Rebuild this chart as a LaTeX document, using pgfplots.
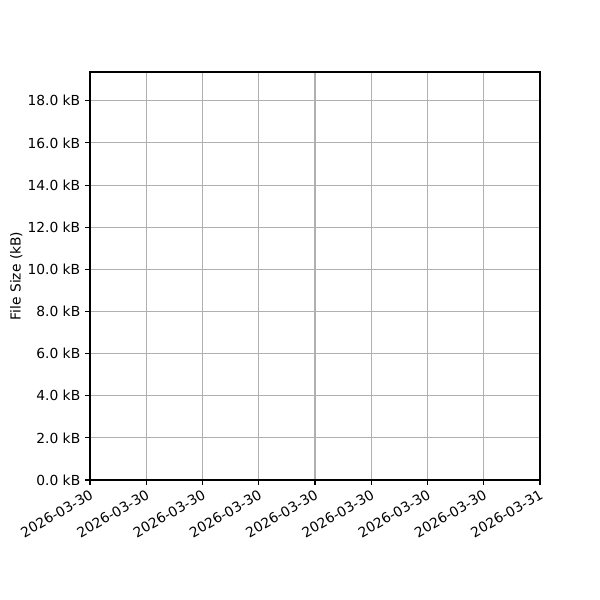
\documentclass[border=0pt]{standalone}
\usepackage{pgfplots}
\pgfplotsset{compat=1.18}
\usepackage{fontspec}
\setmainfont{DejaVu Sans}
\begin{document}
\fontsize{10}{12}\selectfont
\begin{tikzpicture}
\path[use as bounding box] (-65.04pt,-86.72pt) rectangle (368.58pt,346.90pt);
\begin{axis}[
  at={(0,0)}, anchor=south west,
  scale only axis,
  width=325.2pt, height=294.9pt,
  xmin=0, xmax=8, ymin=0, ymax=19.37,
  xtick={0,1,2,3,4,5,6,7,8},
  xticklabels={2026-03-30,2026-03-30,2026-03-30,2026-03-30,2026-03-30,2026-03-30,2026-03-30,2026-03-30,2026-03-31},
  ytick={0,2,4,6,8,10,12,14,16,18},
  yticklabel={\pgfmathprintnumber[fixed,fixed zerofill,precision=1]{\tick}~kB},
  /pgf/number format/assume math mode=true,
  xtick pos=bottom, ytick pos=left,
  tick align=outside,
  major tick length=3.5pt,
  every tick/.style={black, line width=0.8pt},
  axis line style={line width=0.8pt},
  grid=major,
  major grid style={color=black!31, line width=0.8pt},
  xticklabel style={rotate=30, anchor=north east, font=\fontsize{10}{12}\selectfont, inner sep=2pt},
  yticklabel style={font=\fontsize{10}{12}\selectfont},
  ylabel={File Size (kB)},
  ylabel style={font=\fontsize{10}{12}\selectfont, at={(axis description cs:-0.164,0.5)}, anchor=center},
]
\addplot[draw=none, forget plot] coordinates {(0,0)};
\end{axis}
\end{tikzpicture}
\end{document}
